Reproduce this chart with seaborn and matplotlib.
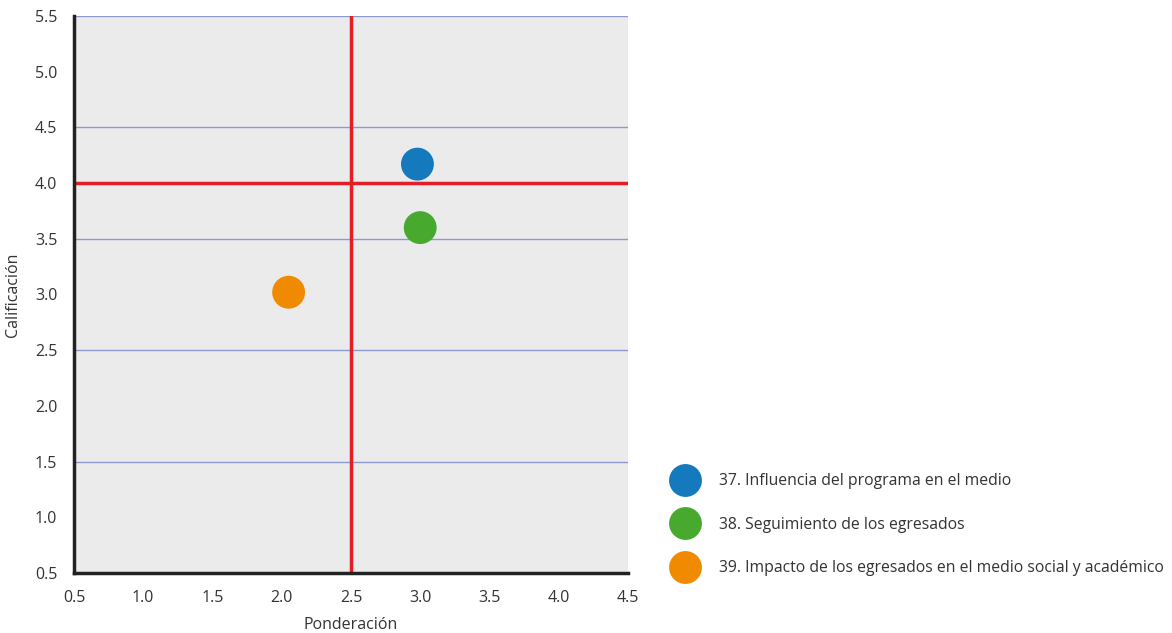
import numpy as np
import pandas as pd
import matplotlib
matplotlib.use('Agg')
import matplotlib.pyplot as plt
import seaborn as sns

# Data
labels = ['37. Influencia del programa en el medio',
          '38. Seguimiento de los egresados',
          '39. Impacto de los egresados en el medio social y académico']
ponderacion = [2.98, 3.00, 2.05]
calificacion = [4.17, 3.60, 3.02]
colors = ['#1479bd', '#47a92e', '#f08a00']
x_ticks = [0.5, 1.0, 1.5, 2.0, 2.5, 3.0, 3.5, 4.0, 4.5]
y_ticks = [0.5, 1.0, 1.5, 2.0, 2.5, 3.0, 3.5, 4.0, 4.5, 5.0, 5.5]
grid_y = [1.5, 2.5, 3.5, 4.5, 5.5]

df = pd.DataFrame({'Ponderación': ponderacion, 'Calificación': calificacion, 'item': labels})

sns.set_style('white')
plt.rcParams['font.family'] = ['Open Sans', 'DejaVu Sans']

fig = plt.figure(figsize=(11.72, 6.33), dpi=100)
ax = fig.add_axes([0.0631, 0.0948, 0.4727, 0.880])
ax.set_facecolor('#ebebeb')

# horizontal grid lines (only at the odd half steps)
for yv in grid_y:
    ax.axhline(yv, color='#8c9ad0', lw=1, zorder=1)

# quadrant dividers
ax.axvline(2.5, color='#e41e26', lw=2.5, zorder=2)
ax.axhline(4.0, color='#e41e26', lw=2.5, zorder=2)

sns.scatterplot(data=df, x='Ponderación', y='Calificación', hue='item',
                palette=colors, s=560, edgecolor='none', ax=ax, zorder=3)

ax.set_xlim(0.5, 4.5)
ax.set_ylim(0.5, 5.5)
ax.set_xticks(x_ticks)
ax.set_yticks(y_ticks)
ax.set_xticklabels([f'{v:.1f}' for v in x_ticks])
ax.set_yticklabels([f'{v:.1f}' for v in y_ticks])
ax.tick_params(axis='both', direction='out', length=8, width=2, color='#222222',
               labelsize=11.5, labelcolor='#333333', pad=4)
for side in ['top', 'right']:
    ax.spines[side].set_visible(False)
for side in ['left', 'bottom']:
    ax.spines[side].set_color('#222222')
    ax.spines[side].set_linewidth(2.5)
ax.set_xlabel('Ponderación', fontsize=11.5, color='#333333', labelpad=8)
ax.set_ylabel('Calificación', fontsize=11.5, color='#333333', labelpad=10)

leg = ax.legend(loc='lower left', bbox_to_anchor=(1.049, -0.031), frameon=False,
                fontsize=11.3, labelspacing=1.75, handletextpad=1.2, markerscale=1.0,
                title=None)
for txt in leg.get_texts():
    txt.set_color('#333333')

fig.savefig('out.png', dpi=100)
